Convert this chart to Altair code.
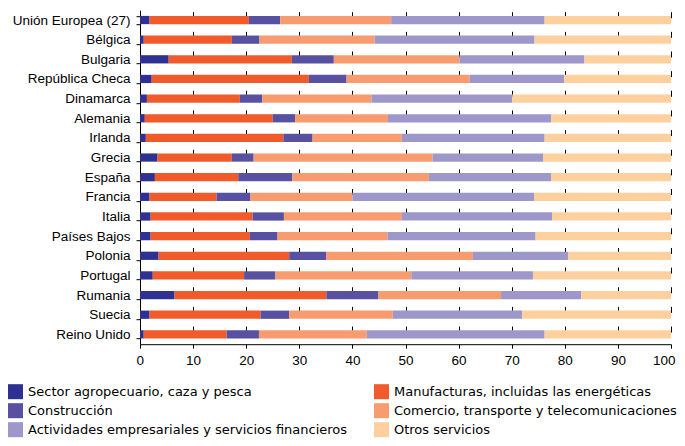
import altair as alt
import pandas as pd

countries = ["Unión Europea (27)", "Bélgica", "Bulgaria", "República Checa", "Dinamarca",
             "Alemania", "Irlanda", "Grecia", "España", "Francia", "Italia", "Países Bajos",
             "Polonia", "Portugal", "Rumania", "Suecia", "Reino Unido"]

sectors = ["Sector agropecuario, caza y pesca", "Manufacturas, incluidas las energéticas",
           "Construcción", "Comercio, transporte y telecomunicaciones",
           "Actividades empresariales y servicios financieros", "Otros servicios"]

colors = ["#2E3192", "#F15A2B", "#5851A2", "#F89C70", "#9E98CA", "#FDD09E"]

agro = [1.8, 0.7, 5.4, 2.2, 1.3, 0.9, 1.1, 3.3, 2.8, 1.8, 2.0, 2.0, 3.5, 2.4, 6.5, 1.8, 0.7]
manu = [18.7, 16.6, 23.2, 29.6, 17.5, 24.1, 25.9, 14.0, 15.7, 12.6, 19.2, 18.7, 24.6, 17.2, 28.6, 20.9, 15.6]
constr = [5.9, 5.2, 7.9, 7.1, 4.2, 4.2, 5.5, 4.1, 10.2, 6.4, 5.9, 5.2, 7.0, 5.9, 9.8, 5.4, 6.1]
comercio = [20.9, 21.7, 23.7, 23.2, 20.6, 17.5, 16.8, 33.7, 25.7, 19.2, 22.2, 20.7, 27.6, 25.6, 23.1, 19.5, 20.3]
activ = [28.9, 30.1, 23.5, 17.8, 26.5, 30.7, 26.9, 20.8, 23.0, 34.2, 28.3, 27.9, 17.9, 22.9, 15.1, 24.4, 33.5]
otros = [23.8, 25.7, 16.3, 20.1, 29.9, 22.6, 23.8, 24.1, 22.6, 25.8, 22.4, 25.5, 19.4, 26.0, 16.9, 28.0, 23.8]

x_ticks = [0, 10, 20, 30, 40, 50, 60, 70, 80, 90, 100]

series = [agro, manu, constr, comercio, activ, otros]
rows = []
for si, (name, vals) in enumerate(zip(sectors, series)):
    for c, v in zip(countries, vals):
        rows.append({"pais": c, "sector": name, "valor": v, "idx": si})
df = pd.DataFrame(rows)

H = 334
step = H / len(countries)
FONT = "Liberation Sans"

chart = alt.Chart(df).mark_bar().encode(
    y=alt.Y("pais:N", sort=countries, title=None,
            scale=alt.Scale(paddingInner=0.58, paddingOuter=0.29),
            axis=alt.Axis(domainColor="black", domainWidth=1, tickColor="black", tickSize=4,
                          tickBand="extent", labelFontSize=13.5, labelFont=FONT,
                          labelColor="black", labelPadding=6, grid=False)),
    x=alt.X("valor:Q", stack="zero", title=None,
            scale=alt.Scale(domain=[0, 100], nice=False),
            axis=alt.Axis(values=x_ticks, domainColor="black", domainWidth=1, tickColor="black",
                          tickSize=4, labelFontSize=13.5, labelFont=FONT, labelColor="black",
                          labelPadding=5, labelFlush=True, labelFlushOffset=4,
                          grid=True, gridColor="black", gridWidth=1,
                          gridDash=[6, step - 6], gridDashOffset=7.5)),
    color=alt.Color("sector:N", sort=sectors,
                    scale=alt.Scale(domain=sectors, range=colors),
                    legend=alt.Legend(title=None, orient="none", legendX=-132, legendY=374,
                                      columns=2, direction="horizontal",
                                      symbolType="square", symbolSize=225,
                                      symbolStrokeWidth=0, labelFontSize=13,
                                      labelFont="DejaVu Sans",
                                      labelColor="black", labelOffset=5, rowPadding=4,
                                      columnPadding=26, padding=0, labelLimit=500)),
    order=alt.Order("idx:Q"),
).properties(
    width=531, height=H,
    autosize=alt.AutoSizeParams(type="none"),
    padding={"left": 132, "top": 2.2, "right": 6, "bottom": 93.5},
).configure_view(stroke=None)

chart.save("out.html", embed_options={"renderer": "svg", "actions": False})
